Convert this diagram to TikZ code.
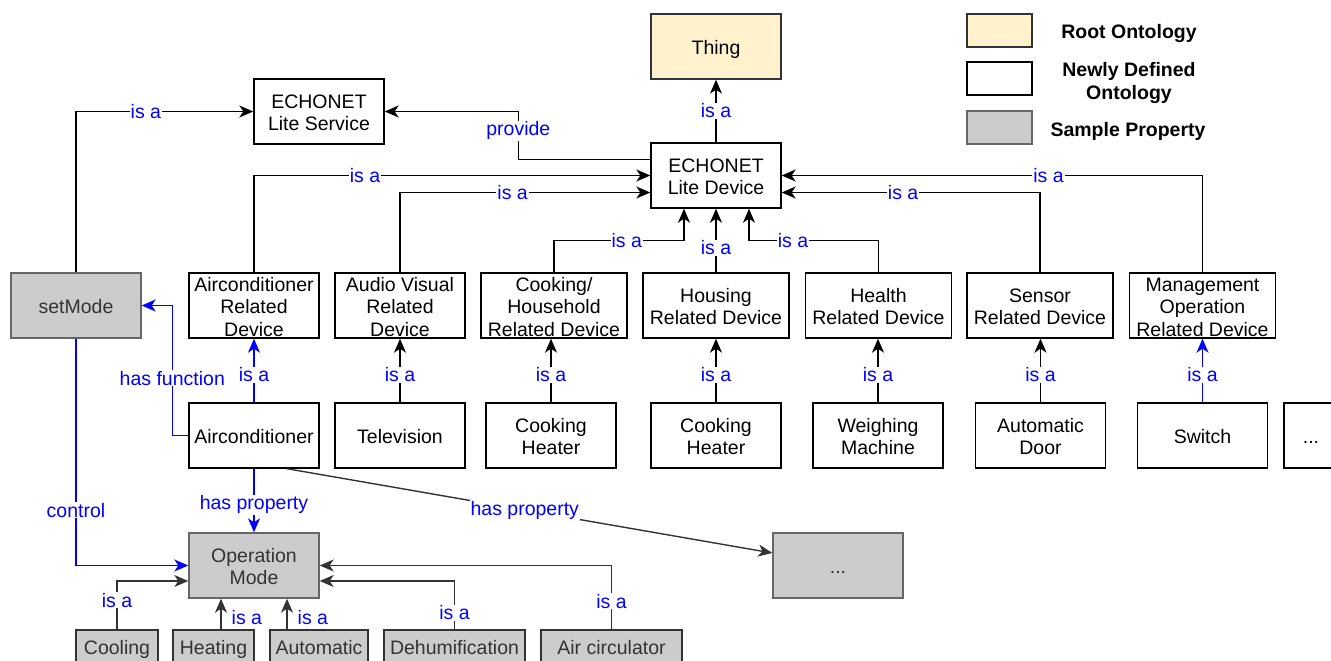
\documentclass[tikz,border=0pt]{standalone}
\usepackage{fontspec}
\setmainfont{Liberation Sans}
\usetikzlibrary{arrows.meta}
\definecolor{rootfill}{HTML}{FFF2CC}
\definecolor{propfill}{HTML}{CCCCCC}
\definecolor{propline}{HTML}{666666}
\definecolor{darkline}{HTML}{333333}
\definecolor{relblue}{HTML}{0000FF}
% struts that give every text block a fixed ascent and descent
\newcommand{\topstrut}{\rule{0pt}{19.6pt}}
\newcommand{\ms}{\rule{0pt}{20.5pt}}
\newcommand{\botstrut}{\rule[-4.1pt]{0pt}{4.1pt}}
\tikzset{
  base/.style={rectangle, draw, line width=1.4pt, inner xsep=0pt, inner ysep=-4pt, align=center,
    font=\fontsize{19.5}{22.5}\selectfont,
    execute at begin node=\topstrut, execute at end node=\botstrut},
  classbox/.style={base, draw=black, fill=white, minimum width=130, minimum height=65},
  rootbox/.style={classbox, draw=darkline, fill=rootfill},
  propbox/.style={base, draw=propline, fill=propfill, text=darkline, minimum width=130, minimum height=65},
  subprop/.style={base, draw=darkline, fill=propfill, text=darkline, minimum height=34},
  legendtext/.style={align=center, inner sep=0pt, font=\fontsize{19.5}{22.5}\selectfont\bfseries,
    execute at begin node=\topstrut, execute at end node=\botstrut},
  tip/.style={-{Stealth[length=14pt,width=12pt,inset=4pt]}},
  arr/.style={tip, line width=1.4pt, draw=black},
  arrblue/.style={tip, line width=1.4pt, draw=relblue},
  arrgray/.style={tip, line width=1.4pt, draw=darkline},
  lbl/.style={fill=white, text=relblue, inner sep=1pt, font=\fontsize{19.5}{22.5}\selectfont},
}
\begin{document}
\begin{tikzpicture}[x=1pt,y=-1pt]
\useasboundingbox (0,0) rectangle (1331,661);
\clip (0,0) rectangle (1331,661);

% legend
\node[base, draw=darkline, fill=rootfill, minimum width=65, minimum height=33] (legroot) at (999.5,30.5) {};
\node[base, draw=black, fill=white, minimum width=65, minimum height=33] (legnew) at (999.5,78.5) {};
\node[base, draw=propline, fill=propfill, minimum width=65, minimum height=33] (legprop) at (999.5,127.5) {};
\node[legendtext] (legroottxt) at (1129,31) {Root Ontology};
\node[legendtext] (legnewtxt) at (1129,80) {\ms Newly Defined\\Ontology};
\node[legendtext] (legproptxt) at (1128,129) {Sample Property};

% top of the hierarchy
\node[rootbox] (thing) at (716,46.5) {Thing};
\node[classbox] (service) at (319,111.5) {\ms ECHONET\\Lite Service};
\node[classbox] (device) at (716,175.5) {\ms ECHONET\\Lite Device};

% device categories
\node[propbox] (setmode) at (76,305.5) {setMode};
\node[classbox] (acr) at (254,305.5) {\ms Airconditioner\\Related\\Device};
\node[classbox] (avr) at (400,305.5) {\ms Audio Visual\\Related\\Device};
\node[classbox, minimum width=146] (chr) at (554,305.5) {\ms Cooking/\\Household\\Related Device};
\node[classbox, minimum width=146] (hor) at (716,305.5) {\ms Housing\\Related Device};
\node[classbox, minimum width=146] (her) at (878.5,305.5) {\ms Health\\Related Device};
\node[classbox, minimum width=146] (ser) at (1040,305.5) {\ms Sensor\\Related Device};
\node[classbox, minimum width=146] (mor) at (1202.5,305.5) {\ms Management\\Operation\\Related Device};

% concrete devices
\node[classbox] (ac) at (254,435.5) {Airconditioner};
\node[classbox] (tv) at (400,435.5) {Television};
\node[classbox] (ch1) at (551,435.5) {\ms Cooking\\Heater};
\node[classbox] (ch2) at (716,435.5) {\ms Cooking\\Heater};
\node[classbox] (wm) at (878,435.5) {\ms Weighing\\Machine};
\node[classbox] (ad) at (1040.5,435.5) {\ms Automatic\\Door};
\node[classbox] (sw) at (1202.5,435.5) {Switch};
\node[classbox, minimum width=54] (moredev) at (1311,435.5) {...};

% properties
\node[propbox] (opmode) at (254,565.5) {\ms Operation\\Mode};
\node[propbox] (moreprop) at (838,565.5) {...};
\node[subprop, minimum width=82] (cool) at (117,647) {Cooling};
\node[subprop, minimum width=81] (heat) at (213.5,647) {Heating};
\node[subprop, minimum width=98] (auto) at (319,647) {Automatic};
\node[subprop, minimum width=141] (dehu) at (454.5,647) {Dehumification};
\node[subprop, minimum width=141] (aircirc) at (611.5,647) {Air circulator};

% relations to the top classes
\draw[arr] (device.north) -- (thing.south) node[lbl, pos=0.5] {is a};
\draw[arr] ([yshift=16]device.west) -- ++(-132,0) |- (service.east) node[lbl, pos=0.3] {provide};
\draw[arr] (setmode.north) |- (service.west) node[lbl, pos=0.697] {is a};

% categories to ECHONET Lite Device
\draw[arr] (acr.north) |- (device.west) node[lbl, pos=0.64] {is a};
\draw[arr] (avr.north) |- ([yshift=-17]device.west) node[lbl, pos=0.725] {is a};
\draw[arr] (chr.north) -- ++(0,-32) -| ([xshift=-32]device.south) node[lbl, pos=0.28] {is a};
\draw[arr] (hor.north) -- (device.south) node[lbl, pos=0.385] {is a};
\draw[arr] (her.north) -- ++(0,-32) -| ([xshift=33]device.south) node[lbl, pos=0.33] {is a};
\draw[arr] (ser.north) |- ([yshift=-17]device.east) node[lbl, pos=0.765] {is a};
\draw[arr] (mor.north) |- (device.east) node[lbl, pos=0.683] {is a};

% devices to categories
\draw[arrblue] (ac.north) -- (acr.south) node[lbl, pos=0.43] {is a};
\draw[arr] (tv.north) -- (avr.south) node[lbl, pos=0.43] {is a};
\draw[arr] (ch1.north) -- (ch1.north |- chr.south) node[lbl, pos=0.43] {is a};
\draw[arr] (ch2.north) -- (hor.south) node[lbl, pos=0.43] {is a};
\draw[arr] (wm.north) -- (wm.north |- her.south) node[lbl, pos=0.43] {is a};
\draw[arr] (ad.north) -- (ad.north |- ser.south) node[lbl, pos=0.43] {is a};
\draw[arrblue] (sw.north) -- (sw.north |- mor.south) node[lbl, pos=0.43] {is a};

% functions and properties of the air conditioner
\draw[arrblue] (ac.west) -- ++(-16,0) |- (setmode.east) node[lbl, pos=0.22] {has function};
\draw[arrblue] (setmode.south) |- (opmode.west) node[lbl, pos=0.378] {control};
\draw[arrblue] (ac.south) -- (opmode.north) node[lbl, pos=0.57] {has property};
\draw[arrgray] ([xshift=33]ac.south) -- ([yshift=12.5]moreprop.west) node[lbl, pos=0.49] {has property};

% operation mode values
\draw[arrgray] (cool.north) |- ([yshift=-15.5]opmode.west) node[lbl, pos=0.3] {is a};
\draw[arrgray] ([xshift=7.5]heat.north) -- ([xshift=7.5]heat.north |- opmode.south) node[lbl, pos=0.375, anchor=west, xshift=9] {is a};
\draw[arrgray] ([xshift=-32]auto.north) -- ([xshift=-32]auto.north |- opmode.south) node[lbl, pos=0.375, anchor=west, xshift=9] {is a};
\draw[arrgray] (dehu.north) |- ([yshift=-15.5]opmode.east) node[lbl, pos=0.17] {is a};
\draw[arrgray] (aircirc.north) |- (opmode.east) node[lbl, pos=0.22] {is a};
\end{tikzpicture}
\end{document}
